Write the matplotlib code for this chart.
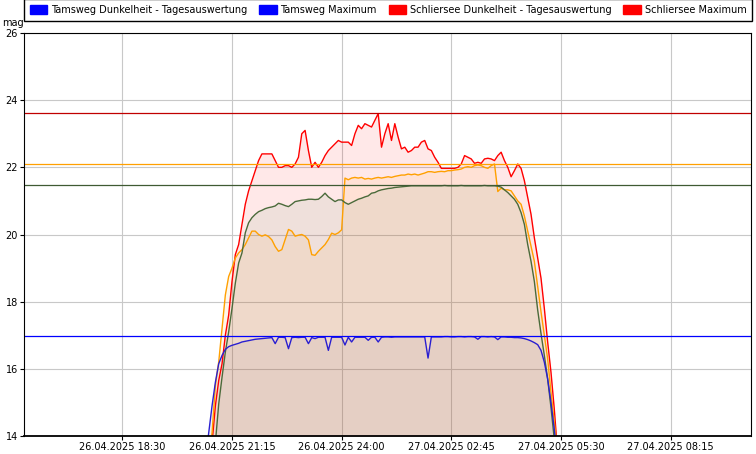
import pandas as pd
import matplotlib.pyplot as plt
import matplotlib.patches as mpatches

plt.rcParams['font.family'] = ['DejaVu Sans']

# 5-minute readings through the night 26./27.04.2025
times = pd.date_range("2025-04-26 20:35", "2025-04-27 05:30", freq="5min")

schliersee = [
    13.0, 13.3, 13.8, 14.9, 15.65, 16.15, 17.0, 17.6, 18.6, 19.4,
    19.7, 20.3, 20.9, 21.3, 21.6, 21.9, 22.2, 22.4, 22.4, 22.4,
    22.4, 22.2, 22.0, 22.0, 22.05, 22.05, 22.0, 22.1, 22.3, 23.0,
    23.1, 22.5, 22.0, 22.15, 22.0, 22.15, 22.35, 22.5, 22.6, 22.7,
    22.8, 22.75, 22.75, 22.75, 22.65, 23.0, 23.25, 23.15, 23.3, 23.25,
    23.2, 23.4, 23.6, 22.6, 23.0, 23.3, 22.8, 23.3, 22.9, 22.55,
    22.6, 22.45, 22.5, 22.6, 22.6, 22.75, 22.8, 22.55, 22.5, 22.3,
    22.15, 21.97, 21.97, 21.97, 21.97, 21.97, 22.0, 22.1, 22.35, 22.3,
    22.25, 22.12, 22.15, 22.12, 22.25, 22.27, 22.25, 22.2, 22.35, 22.45,
    22.2, 22.0, 21.72, 21.9, 22.1, 21.97, 21.6, 21.1, 20.6, 19.9,
    19.3, 18.7, 17.8, 16.8, 15.9, 14.8, 13.5, 13.0]

orange_site = [
    13.0, 13.3, 14.1, 15.5, 16.2, 17.2, 18.2, 18.75, 19.0, 19.3,
    19.45, 19.55, 19.7, 19.9, 20.1, 20.1, 20.0, 19.95, 19.99, 19.94,
    19.84, 19.64, 19.5, 19.55, 19.85, 20.15, 20.1, 19.95, 19.98, 20.0,
    19.95, 19.84, 19.4, 19.38, 19.5, 19.6, 19.7, 19.85, 20.04, 20.0,
    20.05, 20.14, 21.68, 21.63, 21.68, 21.7, 21.68, 21.7, 21.65, 21.67,
    21.65, 21.68, 21.7, 21.68, 21.7, 21.72, 21.7, 21.73, 21.75, 21.77,
    21.77, 21.8, 21.78, 21.8, 21.77, 21.8, 21.83, 21.87, 21.87, 21.85,
    21.87, 21.88, 21.87, 21.9, 21.9, 21.92, 21.93, 21.95, 22.0, 22.02,
    22.0, 22.05, 22.07, 22.05, 22.0, 21.97, 22.05, 22.1, 21.28, 21.38,
    21.33, 21.33, 21.3, 21.15, 21.0, 20.9, 20.55, 20.1, 19.65, 19.2,
    18.45, 17.7, 17.0, 16.3, 15.3, 14.4, 13.5, 13.0]

green_site = [
    13.0, 13.2, 13.5, 13.8, 14.95, 15.75, 16.5, 17.1, 17.8, 18.55,
    19.15, 19.45, 20.05, 20.35, 20.5, 20.6, 20.68, 20.72, 20.77, 20.8,
    20.82, 20.85, 20.93, 20.9, 20.86, 20.83, 20.9, 20.98, 21.0, 21.02,
    21.03, 21.05, 21.05, 21.04, 21.05, 21.13, 21.23, 21.12, 21.05, 20.98,
    21.03, 21.03, 20.95, 20.9, 20.95, 21.0, 21.05, 21.08, 21.12, 21.15,
    21.23, 21.25, 21.3, 21.33, 21.35, 21.37, 21.38, 21.4, 21.41, 21.42,
    21.43, 21.44, 21.45, 21.45, 21.45, 21.45, 21.45, 21.45, 21.45, 21.45,
    21.45, 21.45, 21.46, 21.45, 21.45, 21.45, 21.45, 21.46, 21.45, 21.45,
    21.45, 21.45, 21.45, 21.45, 21.46, 21.45, 21.45, 21.45, 21.44, 21.41,
    21.33, 21.25, 21.15, 21.05, 20.9, 20.65, 20.3, 19.7, 19.2, 18.6,
    17.75, 17.05, 16.4, 15.7, 14.85, 13.9, 13.0, 13.0]

tamsweg = [
    13.3, 14.1, 14.9, 15.6, 16.15, 16.4, 16.58, 16.66, 16.7, 16.73,
    16.76, 16.8, 16.82, 16.84, 16.86, 16.88, 16.89, 16.9, 16.91, 16.92,
    16.93, 16.75, 16.94, 16.94, 16.93, 16.6, 16.93, 16.94, 16.93, 16.94,
    16.94, 16.75, 16.93, 16.9, 16.94, 16.94, 16.94, 16.55, 16.94, 16.94,
    16.94, 16.94, 16.71, 16.94, 16.8, 16.94, 16.94, 16.94, 16.94, 16.85,
    16.94, 16.94, 16.8, 16.94, 16.95, 16.95, 16.94, 16.95, 16.95, 16.95,
    16.95, 16.95, 16.95, 16.95, 16.95, 16.95, 16.95, 16.32, 16.95, 16.95,
    16.95, 16.95, 16.96, 16.96, 16.95, 16.95, 16.96, 16.96, 16.95, 16.96,
    16.96, 16.95, 16.88, 16.96, 16.96, 16.95, 16.96, 16.95, 16.87, 16.95,
    16.95, 16.94, 16.94, 16.93, 16.93, 16.92, 16.9, 16.87, 16.83, 16.78,
    16.72, 16.55, 16.2, 15.7, 15.0, 14.2, 13.3, 13.0]

# nightly maximum lines
max_schliersee = 23.62
max_orange = 22.1
max_green = 21.47
max_tamsweg = 16.97

tick_times = pd.to_datetime(["2025-04-26 18:30", "2025-04-26 21:15", "2025-04-27 00:00",
                             "2025-04-27 02:45", "2025-04-27 05:30", "2025-04-27 08:15"])
tick_labels = ["26.04.2025 18:30", "26.04.2025 21:15", "26.04.2025 24:00",
               "27.04.2025 02:45", "27.04.2025 05:30", "27.04.2025 08:15"]

fig = plt.figure(figsize=(7.56, 4.54), dpi=100)
ax = fig.add_axes([24 / 756, 18 / 454, 727 / 756, 403 / 454])
ax.set_axisbelow(True)

# translucent areas below each curve
series = [
    (schliersee, "#ff0000", "#ff0000", 0.09),
    (orange_site, "#ffa000", "#ff9a00", 0.08),
    (green_site, "#4a6a3a", "#6a9a70", 0.10),
    (tamsweg, "#2a1fd0", "#7a5a80", 0.08),
]
for vals, lc, fc, a in series:
    ax.fill_between(times, vals, 13, color=fc, alpha=a, linewidth=0)
for vals, lc, fc, a in series:
    ax.plot(times, vals, color=lc, linewidth=1.0)

ax.axhline(max_schliersee, color="#c00000", linewidth=0.9)
ax.axhline(max_orange, color="#ffa000", linewidth=0.9)
ax.axhline(max_green, color="#3f5a33", linewidth=0.9)
ax.axhline(max_tamsweg, color="#0000ff", linewidth=0.9)

ax.set_xlim(pd.Timestamp("2025-04-26 16:02"), pd.Timestamp("2025-04-27 10:16"))
ax.set_ylim(14, 26)
ax.set_xticks(tick_times)
ax.set_xticklabels(tick_labels)
ax.set_yticks([14, 16, 18, 20, 22, 24, 26])
ax.tick_params(labelsize=7, length=3, width=0.8, pad=1.5, colors="black")
ax.grid(True, color="#c8c8c8", linewidth=0.8)
for sp in ax.spines.values():
    sp.set_linewidth(0.8)
ax.spines["bottom"].set_linewidth(1.3)

fig.text(2 / 756, 1 - 23 / 454, "mag", fontsize=7, va="center", ha="left")

handles = [mpatches.Patch(color="#0000ff"), mpatches.Patch(color="#0000ff"),
           mpatches.Patch(color="#ff0000"), mpatches.Patch(color="#ff0000")]
labels = ["Tamsweg Dunkelheit - Tagesauswertung", "Tamsweg Maximum",
          "Schliersee Dunkelheit - Tagesauswertung", "Schliersee Maximum"]
leg = fig.legend(handles, labels, loc="upper left", bbox_to_anchor=(24 / 756, 1 + 1 / 454),
                 ncol=4, fontsize=7, fancybox=False, edgecolor="black", framealpha=1,
                 handlelength=1.8, handleheight=1.05, handletextpad=0.4,
                 columnspacing=1.2, borderpad=0.6, borderaxespad=0)
leg.get_frame().set_linewidth(1.0)

fig.savefig("out.png", dpi=100)
